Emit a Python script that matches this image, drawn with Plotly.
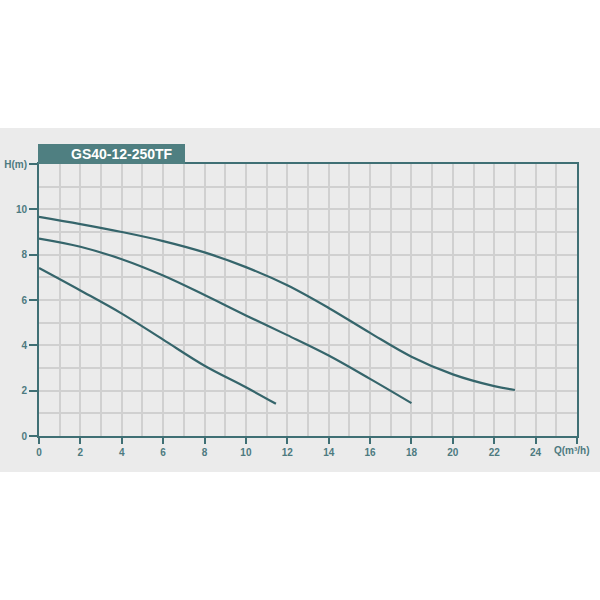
import plotly.graph_objects as go

title_text = "GS40-12-250TF"

q1 = [0, 2, 4, 6, 8, 10, 12, 14, 16, 18, 20, 22, 23]
h1 = [9.67, 9.35, 9.0, 8.6, 8.1, 7.45, 6.65, 5.65, 4.55, 3.5, 2.72, 2.2, 2.03]

q2 = [0, 2, 4, 6, 8, 10, 12, 14, 16, 18]
h2 = [8.71, 8.35, 7.8, 7.08, 6.22, 5.32, 4.45, 3.55, 2.52, 1.45]

q3 = [0, 2, 4, 6, 8, 10, 11.45]
h3 = [7.41, 6.42, 5.4, 4.25, 3.1, 2.15, 1.42]

x_ticks = [0, 2, 4, 6, 8, 10, 12, 14, 16, 18, 20, 22, 24]
y_ticks = [0, 2, 4, 6, 8, 10]
x_label = "Q(m³/h)"
y_label = "H(m)"

teal = "#3f6f74"
line_col = "#35656b"
grid_col = "#d0d0d0"
bg_col = "#ebebeb"
label_col = "#4d7a80"

fig = go.Figure()
for qs, hs in [(q1, h1), (q2, h2), (q3, h3)]:
    fig.add_trace(go.Scatter(x=qs, y=hs, mode="lines",
                             line=dict(color=line_col, width=2.2, shape="spline", smoothing=1.0),
                             hoverinfo="skip", showlegend=False))

W, H = 600, 600
L, R, T, B = 39, 23, 164, 164
PW = W - L - R
PH = H - T - B


def fx(p):
    return (p - L) / PW


def fy(p):
    return (H - B - p) / PH


# grey band behind the chart
fig.add_shape(type="rect", xref="paper", yref="paper",
              x0=fx(0), x1=fx(W), y0=fy(472), y1=fy(128),
              line=dict(width=0), fillcolor=bg_col, layer="below")

tick_font = dict(size=10, family="Liberation Sans", weight="bold", color=label_col)

fig.update_layout(
    width=W, height=H,
    margin=dict(l=L, r=R, t=T, b=B, autoexpand=False),
    paper_bgcolor="white",
    plot_bgcolor=bg_col,
    font=dict(family="Liberation Sans, Arial", color=label_col),
    xaxis=dict(range=[0, 26], tickmode="array", tickvals=x_ticks + [26],
               ticktext=[str(v) for v in x_ticks] + [""],
               showgrid=True, gridcolor=grid_col, gridwidth=1.5,
               minor=dict(dtick=1, showgrid=True, gridcolor=grid_col, gridwidth=1.5),
               showline=True, linecolor=teal, linewidth=2, mirror=True,
               ticks="outside", ticklen=6, tickcolor=teal, tickwidth=2,
               tickfont=tick_font, automargin=False,
               zeroline=False, fixedrange=True),
    yaxis=dict(range=[0, 12], tickmode="array", tickvals=y_ticks + [12],
               ticktext=[str(v) for v in y_ticks] + [y_label],
               showgrid=True, gridcolor=grid_col, gridwidth=1.5,
               minor=dict(dtick=1, showgrid=True, gridcolor=grid_col, gridwidth=1.5),
               showline=True, linecolor=teal, linewidth=2, mirror=True,
               ticks="outside", ticklen=8, tickcolor=teal, tickwidth=2,
               tickfont=tick_font, automargin=False,
               zeroline=False, fixedrange=True),
)

# x axis label near the end of axis
fig.add_annotation(x=26, y=0, xref="x", yref="y", text=x_label, showarrow=False,
                   xanchor="center", yanchor="top", xshift=-5, yshift=-7,
                   font=tick_font)

# title box
fig.add_shape(type="rect", xref="paper", yref="paper",
              x0=fx(38), x1=fx(185), y0=fy(164), y1=fy(144),
              line=dict(width=0), fillcolor="#4f7f81")
fig.add_annotation(x=fx(122), y=fy(154), xref="paper", yref="paper",
                   text=title_text, showarrow=False, xanchor="center", yanchor="middle",
                   font=dict(size=14, family="Liberation Sans", weight="bold", color="white"))

fig.write_html("out.html", config={"displayModeBar": False},
               post_script="document.body.style.margin='0';document.body.style.overflow='hidden';")
